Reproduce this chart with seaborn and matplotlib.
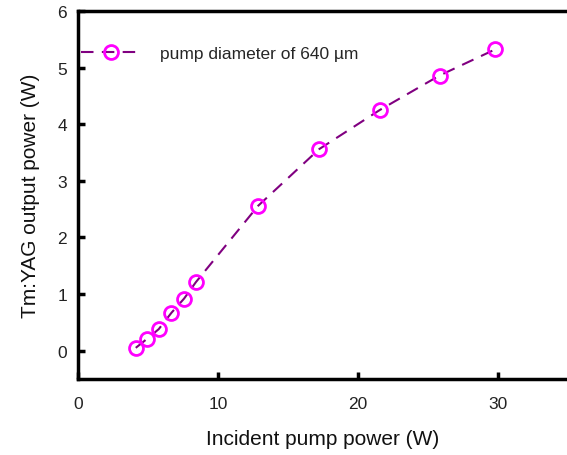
import matplotlib
matplotlib.use("Agg")
import matplotlib.pyplot as plt
import seaborn as sns
import pandas as pd

pump_power = [4.12, 4.93, 5.76, 6.67, 7.57, 8.41, 12.86, 17.21, 21.53, 25.8, 29.76]
output_power = [0.05, 0.21, 0.38, 0.67, 0.92, 1.21, 2.56, 3.56, 4.25, 4.86, 5.32]
series_label = "pump diameter of 640 \u00b5m"
x_ticks = [0, 10, 20, 30]
y_ticks = [0, 1, 2, 3, 4, 5, 6]

sns.set_style("white")
plt.rcParams['font.family'] = ['Liberation Sans', 'DejaVu Sans']

df = pd.DataFrame({"x": pump_power, "y": output_power})

fig = plt.figure(figsize=(5.67, 4.56), dpi=100)
ax = fig.add_axes([0.1376, 0.1667, 0.8624, 0.807])

sns.lineplot(data=df, x="x", y="y", ax=ax, color="#800080", linewidth=1.5,
             linestyle=(0, (6, 4)), marker="o", markersize=10,
             markerfacecolor="none", markeredgecolor="#ff00ff",
             markeredgewidth=2, label=series_label)

ax.set_xlim(0, 34.9)
ax.set_ylim(-0.5, 6)
ax.set_xticks(x_ticks)
ax.set_yticks(y_ticks)
ax.tick_params(direction="in", length=5, width=2.5, labelsize=12.5, colors="black",
               bottom=True, left=True, top=False, right=False)
ax.tick_params(axis="x", pad=12)
ax.tick_params(axis="y", pad=8)
for lab in ax.get_xticklabels() + ax.get_yticklabels():
    lab.set_color("#222222")

for side in ["left", "bottom", "top"]:
    ax.spines[side].set_linewidth(2.5)
    ax.spines[side].set_color("black")
ax.spines["right"].set_visible(False)

ax.set_xlabel("Incident pump power (W)", fontsize=15, labelpad=13, color="#111111")
ax.set_ylabel("Tm:YAG output power (W)", fontsize=15, labelpad=12, color="#111111")

ax.legend(loc="upper left", bbox_to_anchor=(-0.025, 0.948), frameon=False,
          fontsize=12.5, handlelength=3.4, handletextpad=1.1)

fig.savefig("out.png", dpi=100)
